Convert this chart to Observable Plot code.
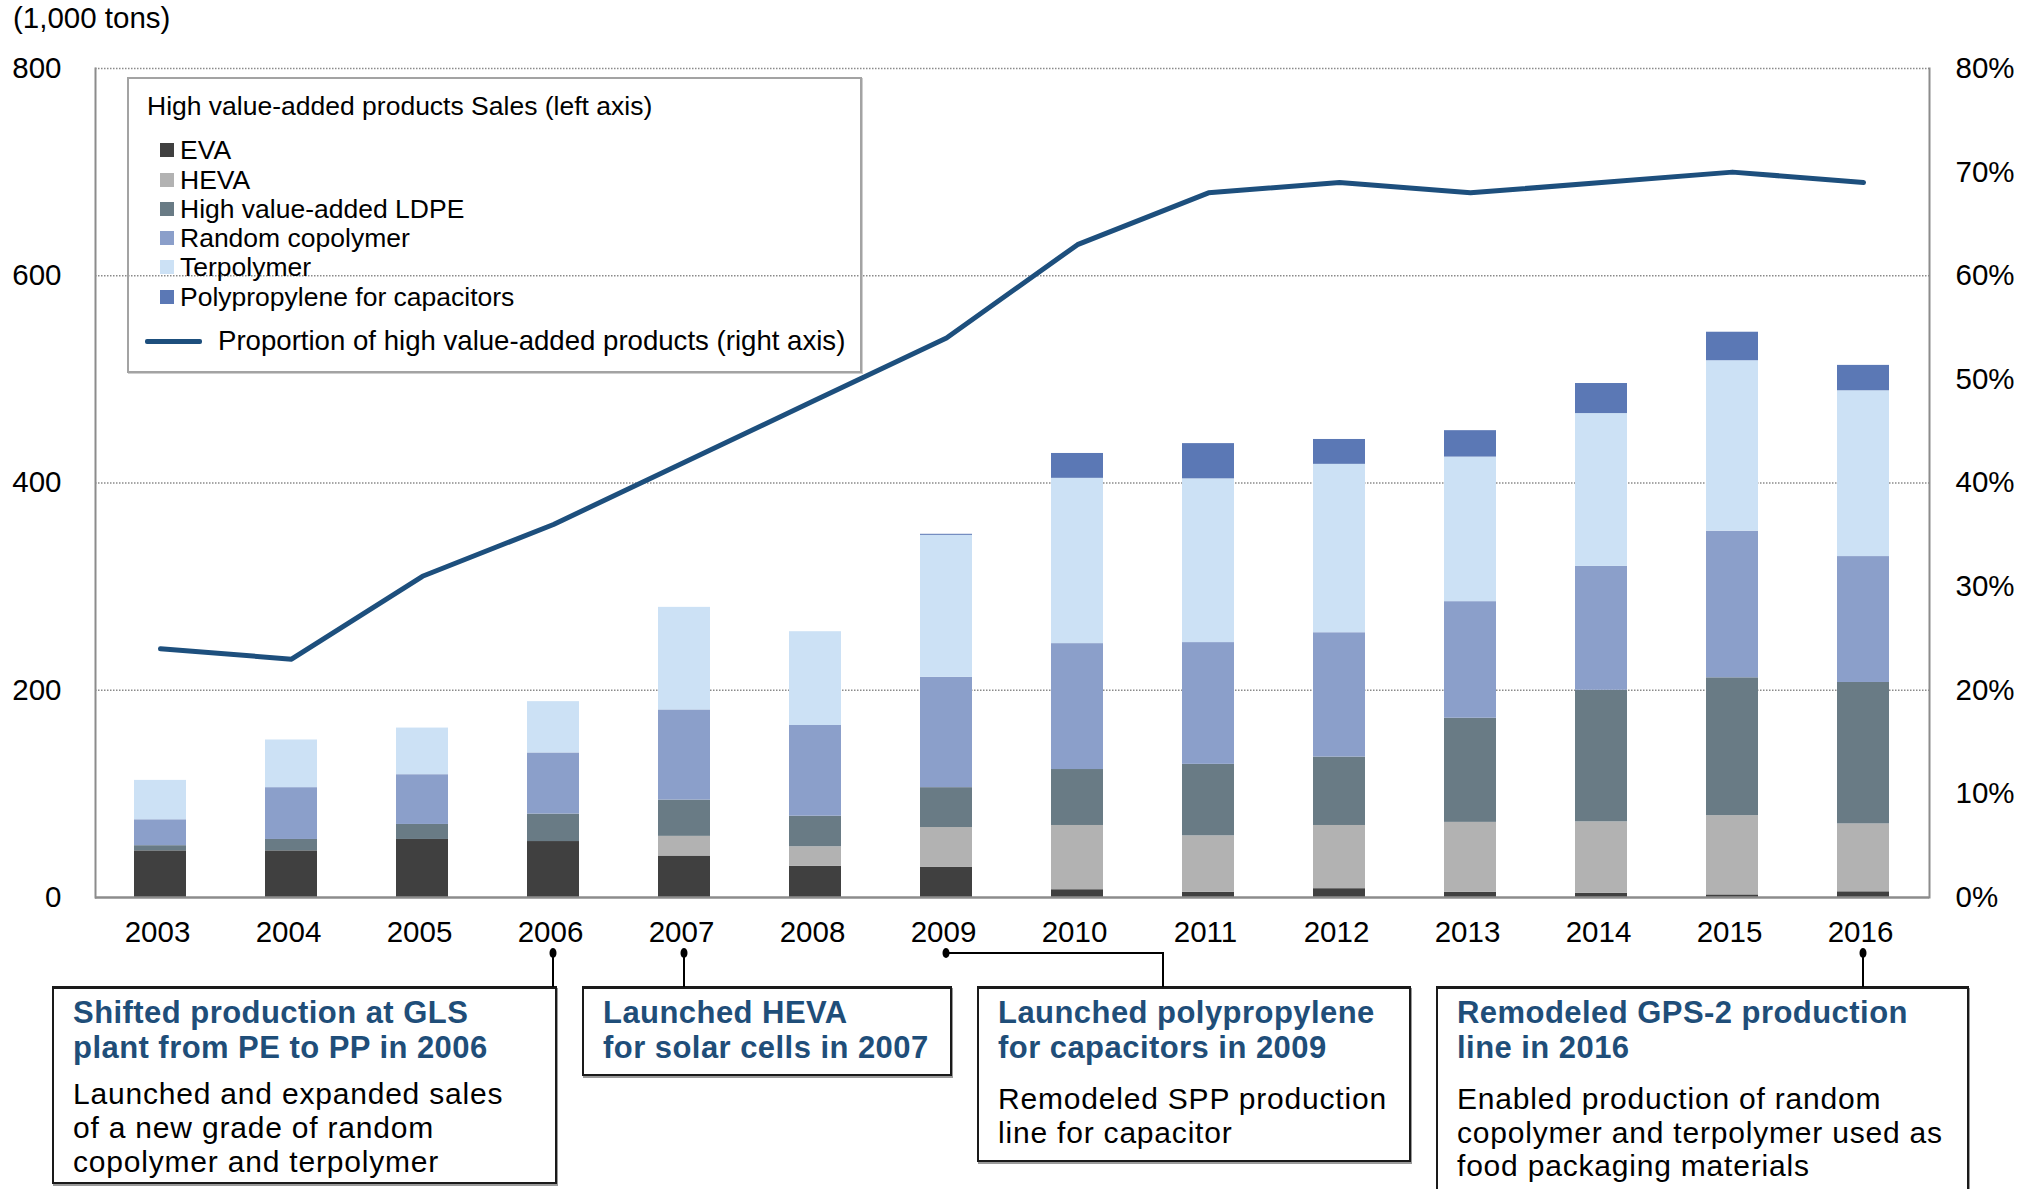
<!DOCTYPE html>
<html><head><meta charset="utf-8">
<script src="https://cdn.jsdelivr.net/npm/d3@7"></script>
<script src="https://cdn.jsdelivr.net/npm/@observablehq/plot@0.6"></script>
<style>
body{margin:0;background:#fff;font-family:"Liberation Sans",Arial,sans-serif;color:#000;}
#wrap{position:relative;width:2033px;height:1189px;overflow:hidden;background:#fff;}
#wrap svg.plot{position:absolute;left:0;top:0;}
.abs{position:absolute;white-space:nowrap;}
.box{position:absolute;box-sizing:border-box;border:2px solid #1a1a1a;border-top-width:3px;background:#fff;box-shadow:1px 2px 0 #9a9a9a;}
.btitle{position:absolute;left:19px;font-weight:bold;color:#1f4e79;font-size:31px;line-height:35px;letter-spacing:0.45px;white-space:nowrap;}
.bbody{position:absolute;left:19px;color:#000;font-size:30px;line-height:34px;letter-spacing:0.8px;white-space:nowrap;}
</style></head>
<body><div id="wrap"></div>
<script>
// ---- data ----
const years = ["2003","2004","2005","2006","2007","2008","2009","2010","2011","2012","2013","2014","2015","2016"];
const seriesNames = ["EVA","HEVA","High value-added LDPE","Random copolymer","Terpolymer","Polypropylene for capacitors"];
const seriesColors = ["#404040","#b2b2b2","#697b85","#8b9fca","#cce1f5","#5b78b5"];
const eva        = [45, 45, 56, 54, 40, 30, 29, 7.5, 5, 8.5, 5, 4, 2.5, 5.5];
const heva       = [0, 0, 0, 0, 19, 19, 38.5, 62, 54.5, 61, 67.5, 69, 76.5, 65.5];
const ldpe       = [5, 11, 14.5, 26.5, 35, 29.5, 38.5, 54, 69, 66, 100.5, 127, 133, 136.5];
const randomCo   = [25, 50, 48, 59, 87, 87.5, 106.5, 121.5, 117.5, 120, 112.5, 119.5, 141.5, 121.5];
const terpolymer = [38, 46, 45, 49.5, 99, 90.5, 137, 159.5, 158, 162.5, 139.5, 147.5, 164.5, 160];
const ppCap      = [0, 0, 0, 0, 0, 0, 1, 24, 34, 24, 25.5, 29, 27.5, 24.5];
const proportion = [24, 23, 31, 36, 42, 48, 54, 63, 68, 69, 68, 69, 70, 69]; // %
const leftTicks  = [0, 200, 400, 600, 800];
const rightTicks = [0, 10, 20, 30, 40, 50, 60, 70, 80]; // %
const gridValues = [200, 400, 600, 800];
const unitLabel = "(1,000 tons)";
const legendTitle = "High value-added products Sales (left axis)";
const lineLabel = "Proportion of high value-added products (right axis)";
const lineColor = "#1d4f7d";

const FONT = '"Liberation Sans", Arial, sans-serif';
const seriesValues = [eva, heva, ldpe, randomCo, terpolymer, ppCap];
const rows = [];
seriesNames.forEach((s, i) => years.forEach((y, j) => rows.push({year: y, series: s, value: seriesValues[i][j]})));
const pctRows = years.map((y, j) => ({year: y, pct: proportion[j]}));

const chart = Plot.plot({
  width: 2033, height: 960,
  marginTop: 68, marginBottom: 63, marginLeft: 95, marginRight: 104,
  style: {fontFamily: FONT, fontSize: "29.5px", color: "#000", background: "transparent"},
  x: {type: "band", domain: years, paddingInner: 0.6, paddingOuter: 0.3, label: null},
  y: {domain: [0, 800], label: null},
  color: {domain: seriesNames, range: seriesColors},
  marks: [
    Plot.ruleY(gridValues, {stroke: "#8a8a8a", strokeWidth: 1.5, strokeDasharray: "1.5,1.5"}),
    Plot.barY(rows, {x: "year", y: "value", fill: "series", order: seriesNames}),
    Plot.frame({stroke: "#8c8c8c", strokeWidth: 2, anchor: "left"}),
    Plot.frame({stroke: "#8c8c8c", strokeWidth: 2, anchor: "right"}),
    Plot.ruleY([0], {stroke: "#8c8c8c", strokeWidth: 2.5}),
    Plot.line(pctRows, {x: "year", y: d => d.pct * 10, stroke: lineColor, strokeWidth: 5}),
    Plot.axisY(leftTicks, {anchor: "left", tickSize: 0, tickPadding: 34, label: null}),
    Plot.axisY(rightTicks.map(v => v * 10), {anchor: "right", tickSize: 0, tickPadding: 26, tickFormat: d => (d / 10) + "%", label: null}),
    Plot.axisX({tickSize: 0, tickPadding: 24, dx: -3, label: null})
  ]
});
chart.classList.add("plot");
const wrap = document.getElementById("wrap");
wrap.appendChild(chart);

function addDiv(parent, cls, html, css) {
  const d = document.createElement("div");
  if (cls) d.className = cls;
  d.innerHTML = html;
  Object.assign(d.style, css);
  parent.appendChild(d);
  return d;
}

// unit label
addDiv(wrap, "abs", unitLabel, {left: "13px", top: "1px", fontSize: "29.5px", lineHeight: "34px"});

// legend
const lg = addDiv(wrap, "", "", {position: "absolute", left: "127px", top: "77px", width: "735px", height: "296px",
  boxSizing: "border-box", border: "2px solid #a3a3a3", boxShadow: "1px 1px 0 #cfcfcf", fontSize: "26.5px"});
addDiv(lg, "abs", legendTitle, {left: "18px", top: (27 - 17) + "px", lineHeight: "34px"});
const itemCenters = [73, 103, 132, 161, 190, 220];
seriesNames.forEach((s, i) => {
  addDiv(lg, "abs", "", {left: "31px", top: (itemCenters[i] - 7 - 2) + "px", width: "14px", height: "14px", background: seriesColors[i]});
  addDiv(lg, "abs", s, {left: "51px", top: (itemCenters[i] - 17 - 2) + "px", lineHeight: "34px"});
});
addDiv(lg, "abs", "", {left: "16px", top: (264 - 2.5 - 2) + "px", width: "57px", height: "5px", background: lineColor, borderRadius: "2px"});
addDiv(lg, "abs", lineLabel, {left: "89px", top: (264 - 17 - 2) + "px", lineHeight: "34px", fontSize: "27.6px"});

// annotation boxes
const boxes = [
  {left: 52, width: 505, height: 198, title: ["Shifted production at GLS", "plant from PE to PP in 2006"],
   body: ["Launched and expanded sales", "of a new grade of random", "copolymer and terpolymer"], bodyTop: 1094, bodyStep: 34},
  {left: 582, width: 370, height: 90, title: ["Launched HEVA", "for solar cells in 2007"], body: [], bodyTop: 0, bodyStep: 34},
  {left: 977, width: 434, height: 176, title: ["Launched polypropylene", "for capacitors in 2009"],
   body: ["Remodeled SPP production", "line for capacitor"], bodyTop: 1099, bodyStep: 33.5},
  {left: 1436, width: 533, height: 240, title: ["Remodeled GPS-2 production", "line in 2016"],
   body: ["Enabled production of random", "copolymer and terpolymer used as", "food packaging materials"], bodyTop: 1099, bodyStep: 33.5}
];
const boxTop = 986;
boxes.forEach(b => {
  const el = addDiv(wrap, "box", "", {left: b.left + "px", top: boxTop + "px", width: b.width + "px", height: b.height + "px"});
  addDiv(el, "btitle", b.title.join("<br>"), {top: (1012 - boxTop - 3 - 17.5) + "px"});
  b.body.forEach((t, k) => {
    addDiv(el, "bbody", t, {top: (b.bodyTop + k * b.bodyStep - boxTop - 3 - 17) + "px"});
  });
});

// connectors using the x scale
const xs = chart.scale("x");
const cx = y => xs.apply(y) + xs.bandwidth / 2;
const ov = d3.select(wrap).append("svg")
  .attr("width", 2033).attr("height", 1189)
  .style("position", "absolute").style("left", 0).style("top", 0).style("pointer-events", "none");
const dotY = 953, endY = boxTop + 1;
const connectors = [
  {year: "2006", path: x => [[x, dotY], [x, endY]]},
  {year: "2007", path: x => [[x, dotY], [x, endY]]},
  {year: "2009", path: x => [[x, dotY], [1163, dotY], [1163, endY]]},
  {year: "2016", path: x => [[x, dotY], [x, endY]]}
];
connectors.forEach(c => {
  const x = cx(c.year);
  ov.append("path").attr("d", d3.line()(c.path(x))).attr("fill", "none").attr("stroke", "#000").attr("stroke-width", 2);
  ov.append("ellipse").attr("cx", x).attr("cy", dotY).attr("rx", 3.5).attr("ry", 5).attr("fill", "#000");
});
</script>
</body></html>
